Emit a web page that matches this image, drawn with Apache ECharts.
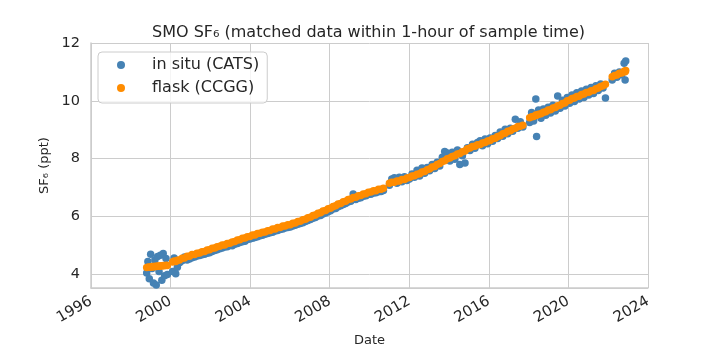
<!DOCTYPE html>
<html>
<head>
<meta charset="utf-8">
<script src="https://cdn.jsdelivr.net/npm/echarts/dist/echarts.min.js"></script>
<style>
html,body{margin:0;padding:0;background:#fff;}
#chart{width:720px;height:360px;}
</style>
</head>
<body>
<div id="chart"></div>
<script>
// Sample dates (decimal years), matched pairs
const dates = [
  1998.80,1998.86,1998.93,1999.00,1999.07,1999.14,1999.21,1999.28,1999.35,1999.42,1999.49,1999.56,1999.63,1999.70,1999.77,1999.84,
  2000.10,2000.18,2000.26,2000.34,2000.45,2000.58,2000.70,2000.83,2000.95,2001.08,2001.21,2001.33,2001.46,2001.58,2001.71,2001.84,2001.96,
  2002.09,2002.22,2002.34,2002.47,2002.60,2002.72,2002.85,2002.98,2003.10,2003.23,2003.36,2003.48,2003.61,2003.74,2003.86,2003.99,
  2004.12,2004.24,2004.37,2004.50,2004.62,2004.75,2004.88,2005.00,2005.13,2005.26,2005.38,2005.51,2005.64,2005.76,2005.89,
  2006.02,2006.14,2006.27,2006.40,2006.52,2006.65,2006.78,2006.90,2007.03,2007.16,2007.28,2007.41,2007.54,2007.66,2007.79,2007.92,
  2008.04,2008.17,2008.30,2008.42,2008.55,2008.68,2008.80,2008.93,2009.06,2009.18,2009.31,2009.44,2009.56,2009.69,2009.82,2009.94,
  2010.07,2010.20,2010.32,2010.45,2010.58,2010.70,
  2011.00,2011.12,2011.25,2011.38,2011.50,2011.63,2011.76,2011.88,2012.01,2012.14,2012.26,2012.39,2012.52,2012.64,2012.77,2012.90,
  2013.02,2013.15,2013.28,2013.40,2013.53,2013.66,2013.78,2013.91,2014.04,2014.16,2014.29,2014.42,2014.54,2014.67,2014.80,2014.92,
  2015.05,2015.18,2015.30,2015.43,2015.56,2015.68,2015.81,2015.94,2016.06,2016.19,2016.32,2016.44,2016.57,2016.70,2016.82,2016.95,
  2017.08,2017.20,2017.33,2017.46,2017.58,2017.71,
  2018.05,2018.15,2018.25,2018.36,2018.40,2018.50,2018.62,2018.74,2018.86,2018.98,2019.10,2019.22,2019.34,2019.46,2019.58,2019.70,
  2019.82,2019.94,2020.06,2020.18,2020.30,2020.42,2020.54,2020.66,2020.78,2020.90,2021.02,2021.14,2021.26,2021.38,2021.50,2021.62,
  2021.74,2021.86,2022.20,2022.32,2022.44,2022.56,2022.68,2022.80,2022.85,2022.88
];
// in situ (CATS), ppt
const insitu = [
  4.05,4.45,3.85,4.70,4.20,3.70,4.50,3.63,4.62,4.10,4.66,3.80,4.72,3.95,4.55,4.00,
  4.10,4.57,4.02,4.25,4.40,4.47,4.60,4.50,4.53,4.58,4.60,4.64,4.65,4.68,4.70,4.73,4.75,
  4.79,4.83,4.85,4.89,4.91,4.95,4.96,5.00,4.99,5.04,5.07,5.10,5.13,5.15,5.21,5.22,
  5.25,5.28,5.30,5.34,5.35,5.39,5.41,5.44,5.46,5.50,5.52,5.55,5.57,5.60,5.62,
  5.64,5.67,5.70,5.73,5.76,5.79,5.83,5.86,5.90,5.94,5.97,6.02,6.04,6.09,6.12,6.17,
  6.20,6.26,6.28,6.34,6.37,6.42,6.45,6.50,6.53,6.78,6.59,6.63,6.65,6.70,6.72,6.76,
  6.77,6.81,6.82,6.86,6.87,6.90,
  7.08,7.30,7.34,7.15,7.36,7.20,7.38,7.25,7.30,7.47,7.36,7.60,7.40,7.68,7.50,7.70,
  7.58,7.80,7.66,7.88,7.75,8.05,8.25,8.20,7.92,8.22,7.98,8.30,7.80,8.10,7.85,8.38,
  8.28,8.50,8.36,8.56,8.62,8.45,8.68,8.52,8.72,8.60,8.80,8.70,8.92,8.78,9.02,8.86,
  9.05,8.95,9.36,9.05,9.28,9.10,
  9.25,9.60,9.30,10.06,8.77,9.68,9.40,9.72,9.50,9.78,9.58,9.85,9.65,10.17,9.74,10.02,
  9.82,10.12,9.92,10.20,9.98,10.28,10.06,10.34,10.12,10.40,10.20,10.46,10.25,10.52,10.36,10.58,
  10.44,10.10,10.72,10.95,10.82,11.00,10.90,11.30,10.72,11.38
];
// flask (CCGG), ppt
const flask = [
  4.24,4.25,4.26,4.25,4.27,4.26,4.28,4.27,4.29,4.28,4.30,4.29,4.31,4.30,4.32,4.31,
  4.43,4.46,4.45,4.49,4.50,4.56,4.57,4.63,4.63,4.69,4.69,4.73,4.74,4.78,4.79,4.84,4.85,
  4.90,4.91,4.96,4.97,5.02,5.02,5.07,5.08,5.12,5.14,5.19,5.20,5.25,5.26,5.30,5.31,
  5.36,5.36,5.41,5.42,5.46,5.47,5.51,5.52,5.57,5.57,5.62,5.62,5.67,5.67,5.72,
  5.72,5.77,5.78,5.83,5.84,5.89,5.91,5.96,5.98,6.04,6.05,6.11,6.13,6.19,6.21,6.27,
  6.29,6.35,6.37,6.43,6.45,6.51,6.53,6.59,6.61,6.66,6.67,6.72,6.73,6.78,6.79,6.84,
  6.85,6.89,6.89,6.94,6.94,6.98,
  7.15,7.19,7.19,7.23,7.23,7.28,7.28,7.33,7.35,7.40,7.41,7.46,7.48,7.54,7.56,7.62,
  7.64,7.71,7.73,7.80,7.83,7.90,7.93,8.00,8.02,8.08,8.10,8.16,8.18,8.24,8.27,8.34,
  8.37,8.42,8.43,8.48,8.49,8.54,8.56,8.61,8.63,8.69,8.71,8.77,8.79,8.86,8.88,8.95,
  8.97,9.03,9.05,9.11,9.12,9.16,
  9.42,9.45,9.46,9.51,9.50,9.54,9.55,9.61,9.62,9.68,9.69,9.75,9.77,9.83,9.85,9.91,
  9.93,10.00,10.02,10.08,10.10,10.15,10.16,10.22,10.24,10.29,10.30,10.35,10.36,10.42,10.44,10.50,
  10.52,10.57,10.83,10.88,10.89,10.95,10.96,11.02,11.01,11.05
];
const seriesNames = ['in situ (CATS)', 'flask (CCGG)'];
const xTicks = [1996, 2000, 2004, 2008, 2012, 2016, 2020, 2024];
const yTicks = [4, 6, 8, 10, 12];

const FONT = 'DejaVu Sans';
const TXT = '#262626';
const GRID = '#cccccc';

const chart = echarts.init(document.getElementById('chart'), null, {renderer: 'canvas'});
const insituData = dates.map((d, i) => [d, insitu[i]]);
const flaskData = dates.map((d, i) => [d, flask[i]]);

chart.setOption({
  animation: false,
  backgroundColor: '#ffffff',
  textStyle: {fontFamily: FONT, color: TXT},
  title: {
    text: 'SMO SF₆ (matched data within 1-hour of sample time)',
    left: 152, top: 25, padding: 0,
    textStyle: {fontFamily: FONT, fontSize: 16, fontWeight: 'normal', color: TXT}
  },
  legend: {
    data: seriesNames,
    orient: 'vertical',
    left: 98, top: 52,
    padding: [5, 8, 7, 19],
    itemGap: 7,
    itemWidth: 8, itemHeight: 8,
    icon: 'circle',
    borderColor: GRID, borderWidth: 1, borderRadius: 4,
    backgroundColor: 'rgba(255,255,255,0.8)',
    textStyle: {fontFamily: FONT, fontSize: 16, color: TXT, padding: [0, 0, 0, 22]}
  },
  grid: {left: 91, right: 72, top: 43, bottom: 72, containLabel: false},
  xAxis: {
    type: 'value',
    min: xTicks[0], max: xTicks[xTicks.length - 1], interval: 4,
    name: 'Date', nameLocation: 'middle', nameGap: 46,
    nameTextStyle: {fontFamily: FONT, fontSize: 13, color: TXT},
    axisLine: {show: true, lineStyle: {color: GRID, width: 1.5}},
    axisTick: {show: false},
    splitLine: {show: true, lineStyle: {color: GRID, width: 1}},
    axisLabel: {
      rotate: 30, margin: 12, fontFamily: FONT, fontSize: 15, color: TXT,
      formatter: v => String(v)
    }
  },
  yAxis: {
    type: 'value',
    min: 3.53, max: yTicks[yTicks.length - 1], splitNumber: 4,
    name: 'SF₆ (ppt)', nameLocation: 'middle', nameGap: 38,
    nameTextStyle: {fontFamily: FONT, fontSize: 13, color: TXT},
    axisLine: {show: true, lineStyle: {color: GRID, width: 1.5}},
    axisTick: {show: false},
    splitLine: {show: true, lineStyle: {color: GRID, width: 1}},
    axisLabel: {
      margin: 11, fontFamily: FONT, fontSize: 14.5, color: TXT,
      showMinLabel: false,
      formatter: v => (yTicks.indexOf(v) >= 0 ? String(v) : '')
    }
  },
  series: [
    {
      name: seriesNames[0], type: 'scatter', data: insituData,
      symbol: 'circle', symbolSize: 7.5,
      itemStyle: {color: '#4682b4', opacity: 1}
    },
    {
      name: seriesNames[1], type: 'scatter', data: flaskData,
      symbol: 'circle', symbolSize: 7.5,
      itemStyle: {color: '#ff8c00', opacity: 1}
    }
  ]
});
</script>
</body>
</html>
